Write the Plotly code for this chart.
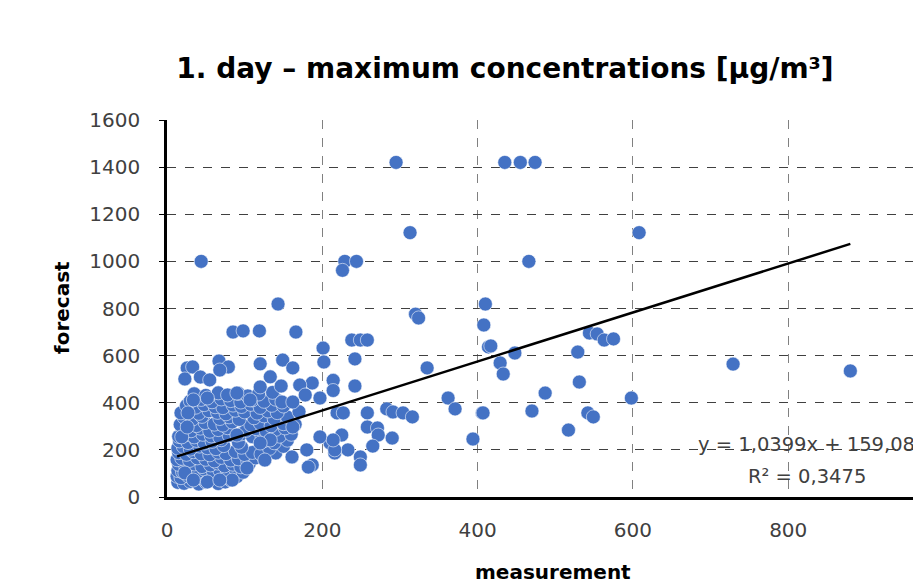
import plotly.graph_objects as go

# ---- data ----
# sparse / outlying points
meas_sparse = [295, 435, 455, 474, 313, 608, 44, 229, 244, 226, 466, 143, 410,
               320, 324, 408, 414, 85, 98, 119, 166, 201, 202, 238, 249, 258,
               242, 335, 242, 214, 214, 362, 371, 406, 394, 258, 283, 291, 304,
               316, 258, 271, 272, 290, 265, 225, 233, 249, 249, 216, 214, 219,
               227, 417, 448, 429, 433, 544, 554, 563, 575, 529, 531, 487, 407,
               470, 542, 549, 517, 598, 729, 880]
fcst_sparse = [1420, 1420, 1420, 1420, 1122, 1122, 1000, 1000, 1000, 962, 1000,
               819, 819, 776, 760, 730, 637, 700, 705, 705, 700, 632, 573, 666,
               666, 666, 586, 548, 471, 495, 452, 420, 374, 357, 246, 357, 374,
               361, 357, 340, 297, 293, 263, 250, 216, 263, 200, 170, 136, 200,
               242, 357, 357, 641, 611, 569, 522, 696, 692, 666, 671, 615, 488,
               441, 357, 365, 357, 340, 284, 420, 564, 535]

# medium-density points around the main cluster
meas_mid = [26, 33, 67, 79, 23, 43, 120, 133, 149, 162, 120, 147, 55, 68, 34,
            52, 90, 107, 148, 162, 197, 27, 187, 171, 178, 210, 216, 187, 180,
            197, 161, 162, 133, 120, 103, 84, 90, 23, 34, 52, 68, 19, 26, 182, 126]
fcst_mid = [548, 552, 577, 552, 501, 509, 565, 510, 581, 548, 467, 471, 497,
            539, 412, 420, 441, 412, 403, 403, 420, 357, 484, 475, 433, 229,
            187, 136, 200, 255, 170, 297, 242, 229, 123, 72, 263, 102, 72, 64,
            72, 255, 297, 127, 157]

# dense cluster (low measurement values)
meas_dense = [14, 22, 30, 41, 50, 58, 66, 75, 82,
              13, 18, 27, 36, 46, 55, 63, 72, 80, 90,
              14, 20, 31, 40, 48, 60, 68, 78, 88, 98,
              15, 24, 35, 45, 56, 65, 74, 85, 95, 106,
              13, 19, 29, 39, 50, 61, 70, 82, 92, 104, 114, 126,
              15, 25, 34, 44, 55, 66, 76, 88, 100, 110, 121, 140,
              14, 21, 30, 42, 52, 63, 73, 96, 132, 150,
              16, 27, 38, 48, 58, 70, 92, 125, 138, 155,
              15, 24, 35, 46, 57, 68, 80, 96, 110, 122, 145, 160,
              20, 31, 43, 55, 66, 78, 102, 115, 128, 140, 152,
              17, 27, 38, 49, 61, 72, 84, 108, 120, 134, 150, 165,
              22, 33, 45, 68, 80, 93, 112, 125, 138, 155,
              18, 30, 41, 54, 65, 76, 88, 100, 116, 130, 142, 170,
              25, 37, 48, 62, 72, 85, 96, 108, 120, 135, 150,
              30, 44, 58, 70, 82, 95, 110, 125, 140,
              35, 50, 66, 78, 92, 104, 118, 136]
fcst_dense = [62, 58, 66, 55, 63, 70, 57, 64, 72,
              88, 82, 90, 84, 79, 92, 86, 81, 95, 87,
              112, 106, 115, 108, 118, 104, 113, 109, 120, 105,
              138, 131, 140, 129, 136, 144, 132, 139, 128, 142,
              158, 164, 155, 166, 160, 153, 168, 157, 162, 151, 166, 158,
              188, 181, 192, 183, 179, 190, 184, 193, 180, 189, 182, 187,
              207, 214, 203, 216, 209, 205, 218, 211, 206, 215,
              238, 231, 240, 229, 236, 243, 232, 239, 230, 241,
              257, 264, 255, 266, 259, 253, 262, 268, 256, 263, 258, 266,
              288, 281, 292, 279, 286, 294, 283, 290, 278, 287, 293,
              307, 314, 303, 316, 309, 305, 318, 306, 313, 302, 311, 308,
              338, 331, 342, 333, 340, 329, 336, 344, 332, 339,
              357, 364, 355, 366, 359, 353, 368, 361, 356, 365, 358, 362,
              388, 381, 392, 383, 379, 390, 384, 393, 380, 389, 386,
              407, 414, 404, 416, 409, 403, 412, 406, 415,
              438, 431, 442, 433, 440, 429, 437, 444]

# linear trend reported on the chart
slope = 1.0399
intercept = 159.08
r_squared = 0.3475

x_ticks = [0, 200, 400, 600, 800, 1000]
y_ticks = [0, 200, 400, 600, 800, 1000, 1200, 1400, 1600]
x_range = [0, 971]   # the axis runs on past the right edge of the window
y_range = [0, 1600]

measurement = meas_dense + meas_mid + meas_sparse
forecast = fcst_dense + fcst_mid + fcst_sparse

x_min, x_max = min(measurement), max(measurement)
trend_x = [x_min, x_max]
trend_y = [slope * v + intercept for v in trend_x]

FONT = "DejaVu Sans"
GREY = "#404040"

# page has an 8px body margin; figure sized to fill the rest of the window
W, H = 913, 577
L, T, B = 159, 112, 88
PW, PH = W - L, H - T - B

fig = go.Figure()
fig.add_trace(go.Scatter(
    x=measurement, y=forecast, mode="markers",
    marker=dict(size=14, color="#4472C4",
                line=dict(color="rgba(255,255,255,0.7)", width=0.8)),
    cliponaxis=False, showlegend=False))
fig.add_trace(go.Scatter(
    x=trend_x, y=trend_y, mode="lines",
    line=dict(color="black", width=2.5), showlegend=False))

fig.update_layout(
    width=W, height=H,
    margin=dict(l=L, r=0, t=T, b=B, autoexpand=False),
    paper_bgcolor="white", plot_bgcolor="white",
    title=dict(text="1. day – maximum concentrations [µg/m³]",
               x=497 / W, xanchor="center", xref="container",
               y=1 - 60 / H, yanchor="middle", yref="container",
               font=dict(family=FONT, size=28, color="black", weight="bold")),
    xaxis=dict(range=x_range, tickvals=x_ticks[:-1],
               showgrid=True, gridcolor="#808080", griddash="dash", gridwidth=1,
               showline=True, linecolor="black", linewidth=2.5,
               zeroline=False, ticks="", ticklabelstandoff=13,
               tickfont=dict(family=FONT, size=20, color=GREY)),
    yaxis=dict(range=y_range, tickvals=y_ticks,
               showgrid=True, gridcolor="#404040", griddash="dash", gridwidth=1,
               showline=True, linecolor="black", linewidth=2.5,
               zeroline=False, ticks="outside", ticklen=5, tickcolor="black",
               ticklabelstandoff=15,
               tickfont=dict(family=FONT, size=20, color=GREY)),
)

# axis titles
fig.add_annotation(text="<b>measurement</b>", xref="paper", yref="paper",
                   x=(545 - L) / PW, y=-(564 - (H - B)) / PH,
                   xanchor="center", yanchor="middle", showarrow=False,
                   font=dict(family=FONT, size=20, color="black"))
fig.add_annotation(text="<b>forecast</b>", xref="paper", yref="paper",
                   x=-(L - 54) / PW, y=((H - B) - 300) / PH,
                   xanchor="center", yanchor="middle", showarrow=False,
                   textangle=-90,
                   font=dict(family=FONT, size=20, color="black"))
# tick label of the last x tick (mostly outside the window)
fig.add_annotation(text=str(x_ticks[-1]), xref="paper", yref="paper",
                   x=(x_ticks[-1] - x_range[0]) / (x_range[1] - x_range[0]),
                   y=0, xanchor="center", yanchor="top", yshift=-15,
                   showarrow=False,
                   font=dict(family=FONT, size=20, color=GREY))

# trend equation
eq_text = "y = {}x + {}".format(f"{slope:.4f}".replace(".", ","),
                                 f"{intercept:.2f}".replace(".", ","))
r2_text = "R² = {}".format(f"{r_squared:.4f}".replace(".", ","))
fig.add_annotation(text=eq_text, xref="x", yref="y", x=824, y=221,
                   xanchor="center", yanchor="middle", showarrow=False,
                   font=dict(family=FONT, size=19.5, color=GREY))
fig.add_annotation(text=r2_text, xref="x", yref="y", x=824, y=85,
                   xanchor="center", yanchor="middle", showarrow=False,
                   font=dict(family=FONT, size=19.5, color=GREY))

fig.write_html("out.html")
